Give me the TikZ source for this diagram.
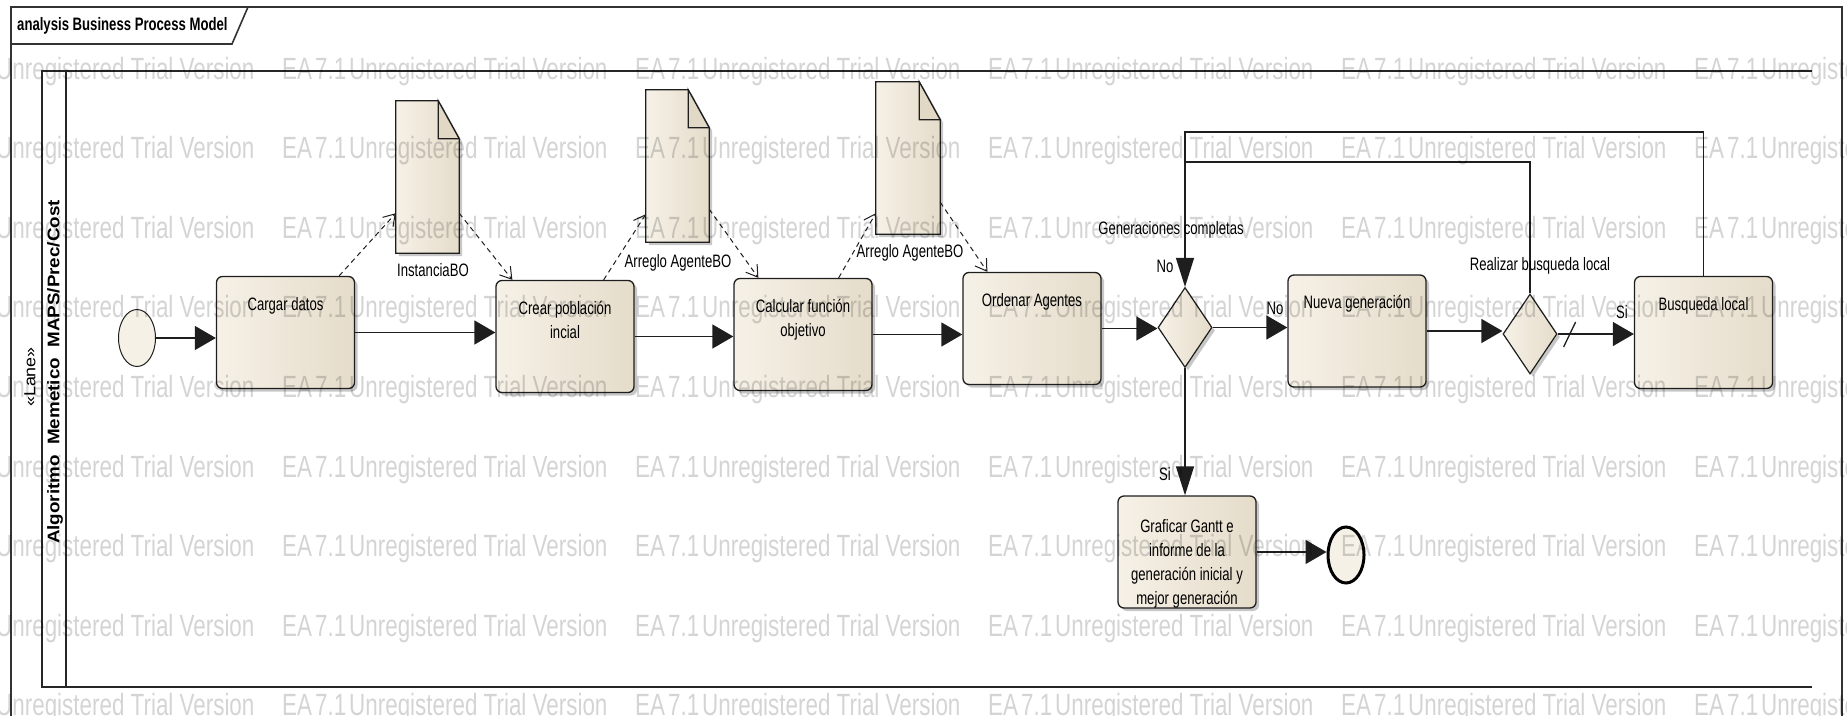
\documentclass[tikz,border=0pt]{standalone}
\usepackage{fontspec}
\setmainfont{Liberation Sans}[FakeStretch=0.73]
\newfontfamily\lanefont{Liberation Sans}[FakeStretch=1.12]
\usetikzlibrary{arrows.meta,shapes.geometric,shadows,calc}

\definecolor{boxlight}{RGB}{246,241,231}
\definecolor{boxdark}{RGB}{229,220,202}
\definecolor{foldfill}{RGB}{226,216,198}
\definecolor{inkline}{RGB}{30,30,30}

\tikzset{
  lbl/.style={font=\fontsize{18}{24}\selectfont, inner sep=0pt, align=center},
  tasktext/.style={lbl, anchor=north, yshift=-21pt},
  softshadow/.style={drop shadow={shadow xshift=3pt, shadow yshift=-3pt, fill=black, opacity=0.22}},
  task/.style={draw=inkline, line width=1.3pt, rounded corners=6pt,
    minimum width=138pt, minimum height=112pt, inner sep=0pt,
    left color=boxlight, right color=boxdark, softshadow},
  gate/.style={diamond, draw=inkline, line width=1.2pt,
    minimum width=54pt, minimum height=80pt, inner sep=0pt,
    left color=boxlight, right color=boxdark, softshadow},
  startev/.style={ellipse, draw=inkline, line width=1pt,
    minimum width=37pt, minimum height=57pt, inner sep=0pt, fill=boxlight},
  endev/.style={ellipse, draw=black, line width=3pt,
    minimum width=36pt, minimum height=56pt, inner sep=0pt, fill=boxlight},
  docbox/.style={minimum width=63pt, minimum height=152pt, inner sep=0pt},
  docsheet/.style={draw=inkline, line width=1.2pt, left color=boxlight, right color=boxdark, softshadow},
  docfold/.style={draw=inkline, line width=1.2pt, fill=foldfill},
  flow/.style={draw=inkline, line width=1.3pt, -{Triangle[length=21pt,width=24pt]}},
  flowdown/.style={draw=inkline, line width=1.3pt, -{Triangle[length=29pt,width=18pt]}},
  rail/.style={draw=inkline, line width=1.3pt},
  assoc/.style={draw=inkline, line width=1pt, dash pattern=on 5pt off 4pt,
    -{Straight Barb[length=11pt,width=14pt]}},
  wm/.style={font=\fontsize{30.7}{30.7}\selectfont, text=black, text opacity=0.17,
    anchor=base west, inner sep=0pt},
}

\newcommand{\docsheetat}[1]{%
  \path[docsheet] (#1.south west) -- (#1.north west) -- ($(#1.north east)+(-21,0)$)
    -- ($(#1.north east)+(0,38)$) -- (#1.south east) -- cycle;
  \path[docfold] ($(#1.north east)+(-21,0)$) -- ($(#1.north east)+(-21,38)$)
    -- ($(#1.north east)+(0,38)$) -- cycle;
}

\begin{document}
\begin{tikzpicture}[x=1pt,y=-1pt]
\useasboundingbox (0,0) rectangle (1847,715);

% diagram frame and title tab
\draw[line width=1.6pt, draw=black!80] (11,716) -- (11,7) -- (1842,7) -- (1842,716);
\draw[line width=1.6pt, draw=black!80] (11,44) -- (232,44) -- (248,7);
\node[font=\bfseries\fontsize{18}{18}\selectfont, anchor=west, inner sep=0pt] (title)
  at (17,26) {analysis Business Process Model};

% swim lane
\draw[line width=2.4pt, draw=black!85] (1812,71) -- (42,71) -- (42,687) -- (1812,687);
\draw[line width=2.4pt, draw=black!85] (66,71) -- (66,687);
\node[rotate=90, inner sep=0pt, font=\lanefont\fontsize{16}{16}\selectfont] (lanestereo)
  at (30,377) {«Lane»};
\node[rotate=90, inner sep=0pt, font=\lanefont\bfseries\fontsize{16.8}{17}\selectfont] (lanename)
  at (55,372) {Algoritmo\ \ Memetico\ \ MAPS/Prec/Cost};

% events, tasks and gateways
\node[startev] (start) at (137,338) {};
\node[task] (cargar)   at (285.5,332.5) {};
\node[task] (crear)    at (565,336.5) {};
\node[task] (calcular) at (803,334.5) {};
\node[task] (ordenar)  at (1032,328.5) {};
\node[gate] (d1)       at (1185,327.5) {};
\node[task] (nueva)    at (1357,331) {};
\node[gate] (d2)       at (1530,334) {};
\node[task] (busq)     at (1703.5,332.5) {};
\node[task] (graficar) at (1187,552) {};
\node[endev] (fin)     at (1346,555) {};

\node[tasktext] (cargar-t)   at (cargar.north)   {Cargar datos};
\node[tasktext] (crear-t)    at (crear.north)    {Crear población\\incial};
\node[tasktext] (calcular-t) at (calcular.north) {Calcular función\\objetivo};
\node[tasktext] (ordenar-t)  at (ordenar.north)  {Ordenar Agentes};
\node[tasktext] (nueva-t)    at (nueva.north)    {Nueva generación};
\node[tasktext] (busq-t)     at (busq.north)     {Busqueda local};
\node[tasktext, yshift=-3pt] (graficar-t) at (graficar.north)
  {Graficar Gantt e\\informe de la\\generación inicial y\\mejor generación};

% data objects
\node[docbox] (doc1) at (427.5,177) {};
\node[docbox] (doc2) at (677.5,166) {};
\node[docbox, minimum width=64pt] (doc3) at (908,158) {};
\docsheetat{doc1}
\docsheetat{doc2}
\docsheetat{doc3}
\node[lbl] (doc1-l) at (433,270) {InstanciaBO};
\node[lbl] (doc2-l) at (678,263) {Arreglo AgenteBO};
\node[lbl] (doc3-l) at (910,253) {Arreglo AgenteBO};

% data associations
\draw[assoc] ($(cargar.north east)+(-16,0)$) -- ($(doc1.south west)+(0,-40)$);
\draw[assoc] ($(doc1.south east)+(0,-40)$) -- ($(crear.north west)+(17,0)$);
\draw[assoc] ($(crear.north east)+(-31,0)$) -- ($(doc2.south west)+(0,-28)$);
\draw[assoc] ($(doc2.south east)+(0,-33)$) -- ($(calcular.north west)+(25,0)$);
\draw[assoc] ($(calcular.north east)+(-34,0)$) -- ($(doc3.south west)+(0,-21)$);
\draw[assoc] ($(doc3.south east)+(0,-32)$) -- ($(ordenar.north west)+(25,0)$);

% sequence flows
\draw[flow] (start.east) -- (start.east -| cargar.west);
\draw[flow] (cargar.east) -- (cargar.east -| crear.west);
\draw[flow] (crear.east) -- (crear.east -| calcular.west);
\draw[flow] (calcular.east) -- (calcular.east -| ordenar.west);
\draw[flow] (ordenar.east) -- (ordenar.east -| d1.west);
\draw[flow] (d1.east) -- (d1.east -| nueva.west);
\draw[flow] (nueva.east) -- (nueva.east -| d2.west);
\draw[flow] (d2.east) -- (d2.east -| busq.west);
\draw[rail] ($(d2.east)+(6,13)$) -- ($(d2.east)+(18,-12)$);
\draw[flowdown] (d1.south) -- (d1.south |- graficar.north);
\draw[flow] (graficar.east) -- (graficar.east -| fin.west);

% loops back to the first gateway
\coordinate (toprail) at (0,132);
\coordinate (midrail) at (0,162);
\draw[rail] (d2.north) -- (d2.north |- midrail) -- (d1.north |- midrail);
\draw[flowdown] (busq.north) -- (busq.north |- toprail) -- (d1.north |- toprail) -- (d1.north);

% flow labels
\node[lbl] (d1-l) at (1171,230) {Generaciones completas};
\node[lbl] (d2-l) at (1540,266) {Realizar busqueda local};
\node[lbl] (no1) at (1165,266) {No};
\node[lbl] (no2) at (1275,308) {No};
\node[lbl] (si1) at (1622,312) {Si};
\node[lbl] (si2) at (1165,474) {Si};

% evaluation watermark
\foreach \r in {0,...,8} {
  \foreach \c in {0,...,5} {
    \node[wm] (wm-\r-\c-a) at (-4+353*\c, 79+79.6*\r) {Unregistered Trial Version};
    \node[wm] (wm-\r-\c-b) at (282+353*\c, 79+79.6*\r) {EA\hspace{3pt}7.1};
  }
}
\end{tikzpicture}
\end{document}
